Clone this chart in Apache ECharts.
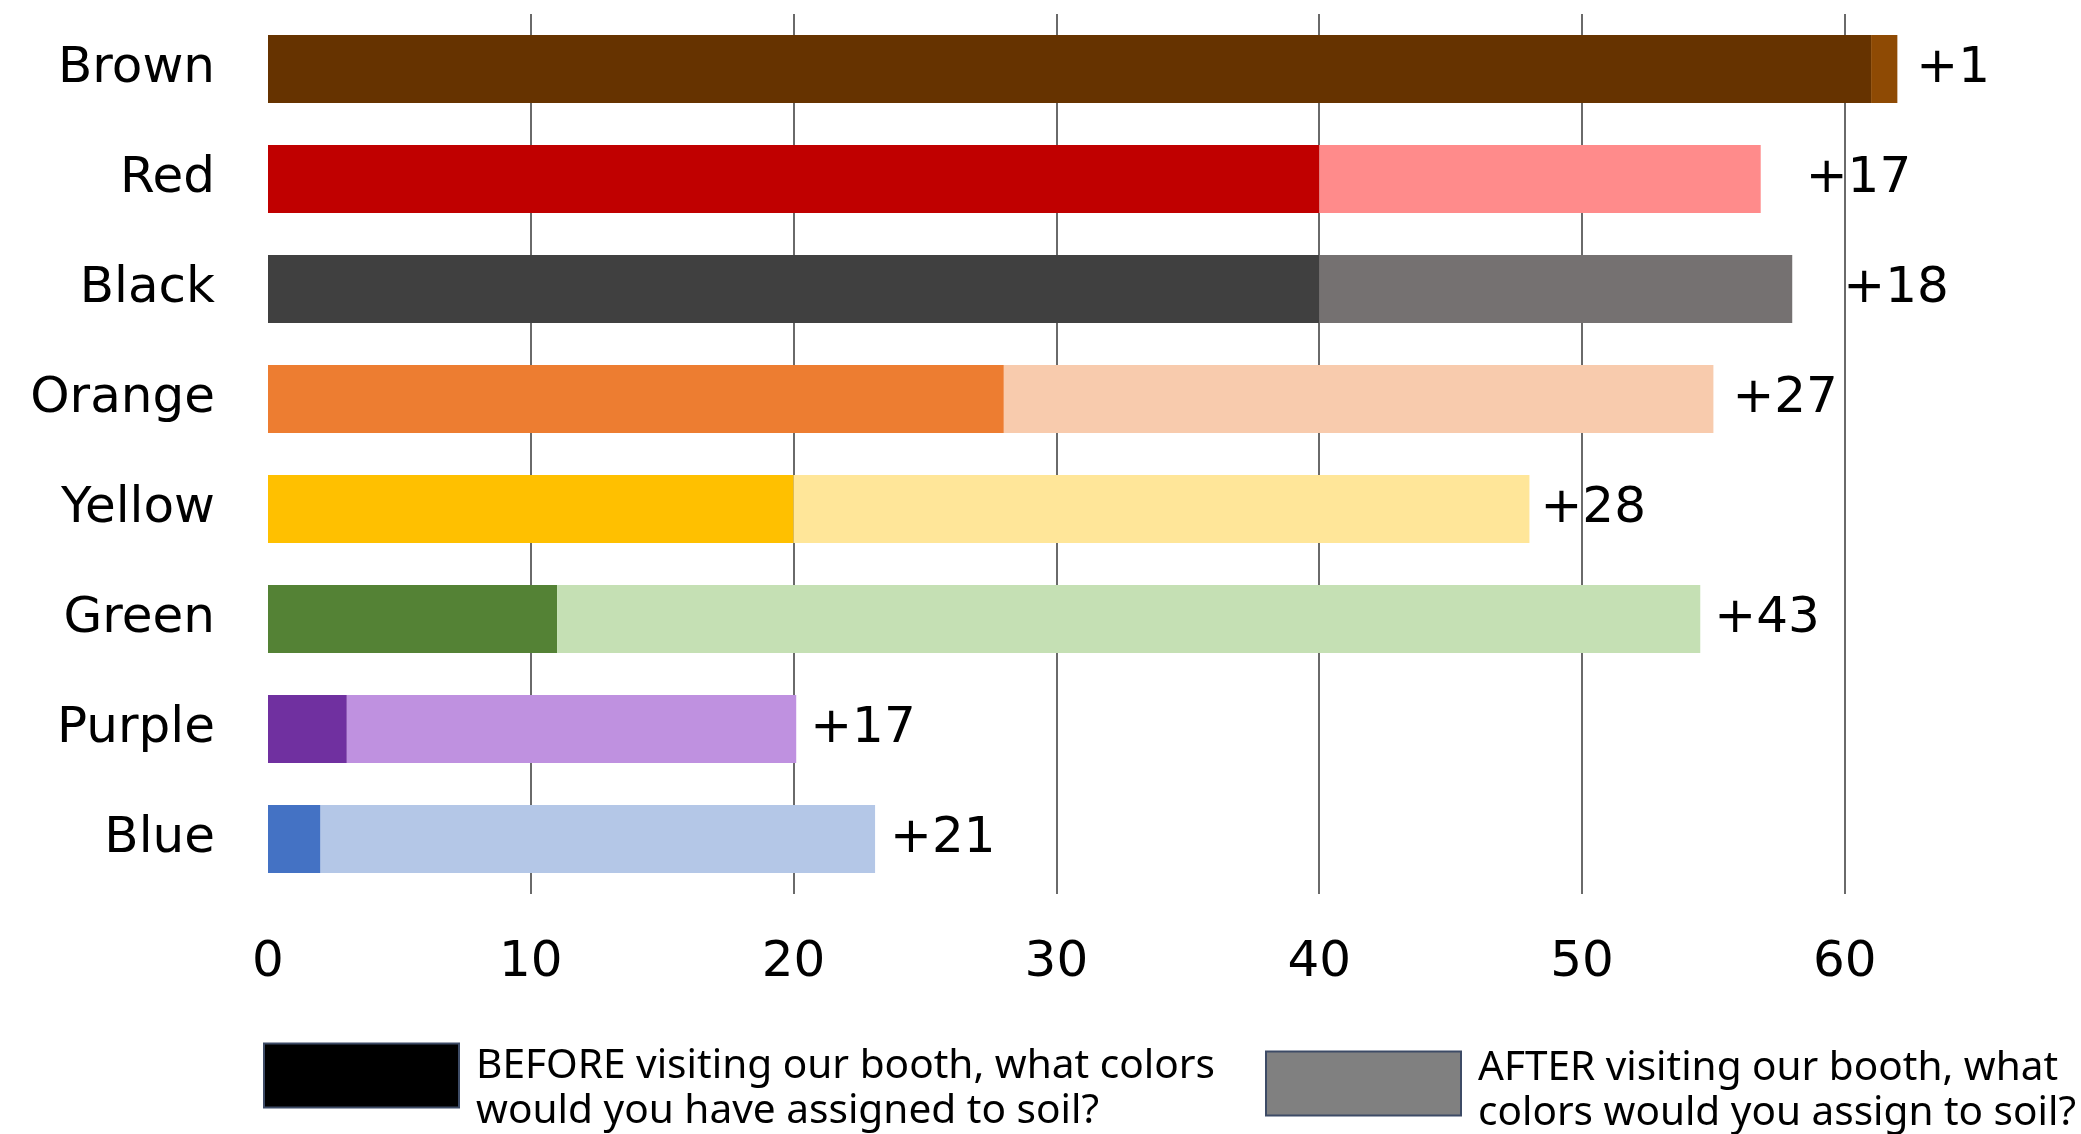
<!DOCTYPE html>
<html>
<head>
<meta charset="utf-8">
<script src="https://cdn.jsdelivr.net/npm/echarts@6/dist/echarts.min.js"></script>
<style>
  html, body { margin: 0; padding: 0; background: #fff; }
  #main { width: 2081px; height: 1134px; }
</style>
</head>
<body>
<div id="main"></div>
<script>
// soil colour survey, before vs after the booth
const categories = ['Brown', 'Red', 'Black', 'Orange', 'Yellow', 'Green', 'Purple', 'Blue'];
const beforeValues = [61, 40, 40, 28, 20, 11, 3, 2];
const afterValues = [62, 56.8, 58, 55, 48, 54.5, 20.1, 23.1];
const changeLabels = ['+1', '+17', '+18', '+27', '+28', '+43', '+17', '+21'];
const tickValues = [0, 10, 20, 30, 40, 50, 60];

const beforeColors = ['#663300', '#C00000', '#404040', '#ED7D31', '#FFC000', '#548235', '#7030A0', '#4472C4'];
const afterColors = ['#8E4A04', '#FF8B8B', '#757171', '#F8CBAD', '#FFE699', '#C5E0B4', '#BF91E0', '#B4C7E7'];
// gap between bar end and its change label, as placed in the original
const labelGaps = [19, 45, 51, 19, 11, 14, 14, 15];

const legendBefore = ['BEFORE visiting our booth, what colors', 'would you have assigned to soil?'];
const legendAfter = ['AFTER visiting our booth, what', 'colors would you assign to soil?'];

const font = '"Noto Sans", "Open Sans", sans-serif';
const numFont = '"DejaVu Sans", "Noto Sans", sans-serif';

// a thin empty first line nudges the two text lines down against the swatch
function legendText(lines) {
  return '{s| }\n' + lines.map(l => '{t|' + l + '}').join('\n');
}

function legendRich(size, spacer) {
  return {
    s: { fontSize: 1, lineHeight: spacer },
    t: { fontSize: size, lineHeight: 45, fontFamily: font, color: '#000' }
  };
}

const chart = echarts.init(document.getElementById('main'), null, { renderer: 'canvas' });

const option = {
  backgroundColor: '#ffffff',
  animation: false,
  grid: {
    left: 268,
    top: 14,
    bottom: 240,
    width: 26.28 * 64,
    containLabel: false,
    outerBoundsMode: 'none'
  },
  xAxis: {
    type: 'value',
    min: 0,
    max: 64,
    interval: 10,
    axisLine: { show: false },
    axisTick: { show: false },
    axisLabel: {
      color: '#000',
      fontSize: 50,
      fontFamily: numFont,
      margin: 44,
      showMaxLabel: false,
      formatter: v => (tickValues.indexOf(v) >= 0 ? String(v) : '')
    },
    splitLine: {
      show: true,
      showMinLine: false,
      showMaxLine: false,
      lineStyle: { color: '#6a6a6a', width: 2 }
    }
  },
  yAxis: {
    type: 'category',
    data: categories,
    inverse: true,
    axisLine: { show: false },
    axisTick: { show: false },
    axisLabel: {
      color: '#000',
      fontSize: 50,
      fontFamily: numFont,
      margin: 53
    }
  },
  legend: [
    {
      left: 263,
      top: 1030,
      padding: 0,
      selectedMode: false,
      itemWidth: 195,
      itemHeight: 64,
      icon: 'rect',
      data: [{ name: 'BEFORE', itemStyle: { color: '#000000', borderColor: '#3d4b66', borderWidth: 2 } }],
      formatter: () => legendText(legendBefore),
      textStyle: { padding: [0, 0, 0, 12], rich: legendRich(40.6, 26) }
    },
    {
      left: 1265,
      top: 1038,
      padding: 0,
      selectedMode: false,
      itemWidth: 195,
      itemHeight: 64,
      icon: 'rect',
      data: [{ name: 'AFTER', itemStyle: { color: '#808080', borderColor: '#3d4b66', borderWidth: 2 } }],
      formatter: () => legendText(legendAfter),
      textStyle: { padding: [0, 0, 0, 12], rich: legendRich(40.5, 14) }
    }
  ],
  series: [
    {
      name: 'BEFORE',
      type: 'bar',
      stack: 'total',
      barWidth: 68,
      itemStyle: { color: '#000000' },
      data: beforeValues.map((v, i) => ({ value: v, itemStyle: { color: beforeColors[i] } }))
    },
    {
      name: 'AFTER',
      type: 'bar',
      stack: 'total',
      barWidth: 68,
      itemStyle: { color: '#808080' },
      label: {
        show: true,
        position: 'right',
        color: '#000',
        fontSize: 50,
        fontFamily: numFont,
        formatter: p => changeLabels[p.dataIndex]
      },
      data: afterValues.map((v, i) => ({
        value: +(v - beforeValues[i]).toFixed(2),
        itemStyle: { color: afterColors[i] },
        label: { distance: labelGaps[i] }
      }))
    }
  ]
};

chart.setOption(option);
</script>
</body>
</html>
